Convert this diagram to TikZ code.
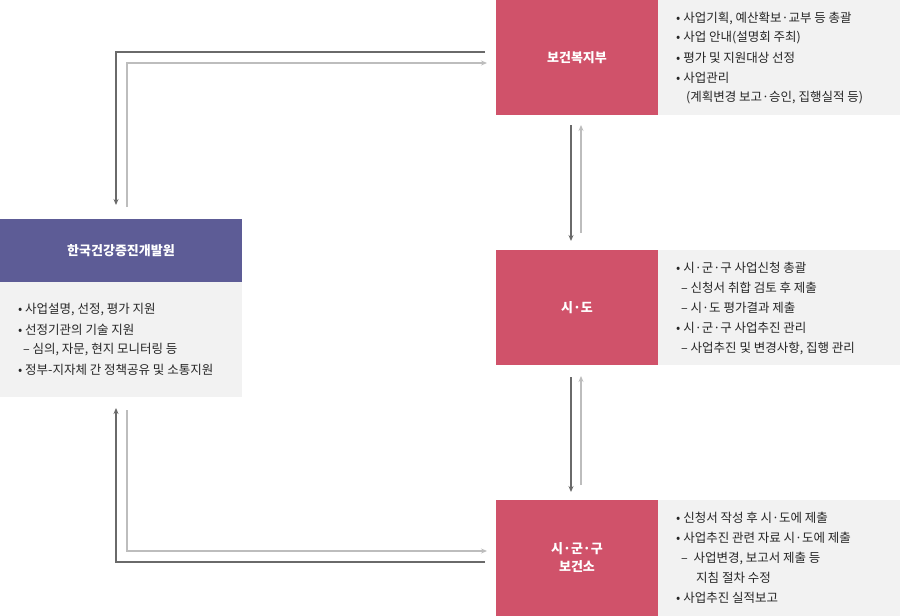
\documentclass[tikz,border=0pt]{standalone}
\usepackage{fontspec}
\setmainfont{Noto Sans CJK KR}
\usetikzlibrary{arrows.meta}
\definecolor{redbox}{HTML}{D0526A}
\definecolor{purplebox}{HTML}{5D5C96}
\definecolor{panel}{HTML}{F2F2F2}
\definecolor{darkline}{HTML}{6A6A6A}
\definecolor{lightline}{HTML}{BDBDBD}
\tikzset{
  box/.style={fill=#1, draw=none, text=white, font=\fontsize{13}{18}\selectfont\bfseries, align=center},
  pan/.style={fill=panel, draw=none},
  ln/.style={anchor=west, inner sep=0pt, font=\fontsize{12.5}{15}\selectfont, text=black!85},
  dk/.style={draw=darkline, line width=1.2pt, -{Stealth[length=6pt,width=5pt]}},
  lt/.style={draw=lightline, line width=1.2pt, -{Stealth[length=6pt,width=5pt]}}
}
\begin{document}
\begin{tikzpicture}[x=1pt,y=-1pt]
\useasboundingbox (0,0) rectangle (900,616);
% boxes
\fill[pan] (658,0) rectangle (900,115);
\fill[pan] (658,250) rectangle (900,365);
\fill[pan] (658,500) rectangle (900,616);
\fill[pan] (0,282) rectangle (242,397);
\node[box=redbox, minimum width=162pt, minimum height=115pt] (mohw) at (577,57.5) {보건복지부};
\node[box=redbox, minimum width=162pt, minimum height=115pt] (sido) at (577,307.5) {시·도};
\node[box=redbox, minimum width=162pt, minimum height=116pt] (sgg) at (577,558) {시·군·구\\보건소};
\node[box=purplebox, minimum width=242pt, minimum height=63pt] (khepi) at (121,250.5) {한국건강증진개발원};
% top text
\node[ln] (t1) at (676,18) {• 사업기획, 예산확보·교부 등 총괄};
\node[ln] (t2) at (676,38) {• 사업 안내(설명회 주최)};
\node[ln] (t3) at (676,58) {• 평가 및 지원대상 선정};
\node[ln] (t4) at (676,78) {• 사업관리};
\node[ln] (t5) at (686,98) {(계획변경 보고·승인, 집행실적 등)};
% middle text
\node[ln] (m1) at (676,268) {• 시·군·구 사업신청 총괄};
\node[ln] (m2) at (681,288) {– 신청서 취합 검토 후 제출};
\node[ln] (m3) at (681,308) {– 시·도 평가결과 제출};
\node[ln] (m4) at (676,328) {• 시·군·구 사업추진 관리};
\node[ln] (m5) at (681,348) {– 사업추진 및 변경사항, 집행 관리};
% bottom text
\node[ln] (b1) at (676,518) {• 신청서 작성 후 시·도에 제출};
\node[ln] (b2) at (676,538) {• 사업추진 관련 자료 시·도에 제출};
\node[ln] (b3) at (681,558) {–\ \ 사업변경, 보고서 제출 등};
\node[ln] (b4) at (696,578) {지침 절차 수정};
\node[ln] (b5) at (676,598) {• 사업추진 실적보고};
% left text
\node[ln] (l1) at (18,310) {• 사업설명, 선정, 평가 지원};
\node[ln] (l2) at (18,330) {• 선정기관의 기술 지원};
\node[ln] (l3) at (23,350) {– 심의, 자문, 현지 모니터링 등};
\node[ln] (l4) at (18,370) {• 정부-지자체 간 정책공유 및 소통지원};
% connectors
\coordinate (a1) at (485,52); \coordinate (a2) at (116,205);
\draw[dk] (a1) -| (a2);
\coordinate (a3) at (127,207); \coordinate (a4) at (487,63);
\draw[lt] (a3) |- (a4);
\draw[dk] (571,125) -- (571,241);
\draw[lt] (581,233) -- (581,125);
\draw[dk] (571,377) -- (571,492);
\draw[lt] (581,485) -- (581,376);
\coordinate (c1) at (485,562); \coordinate (c2) at (116,408);
\draw[dk] (c1) -| (c2);
\coordinate (c3) at (127,410); \coordinate (c4) at (487,551);
\draw[lt] (c3) |- (c4);
\end{tikzpicture}
\end{document}
